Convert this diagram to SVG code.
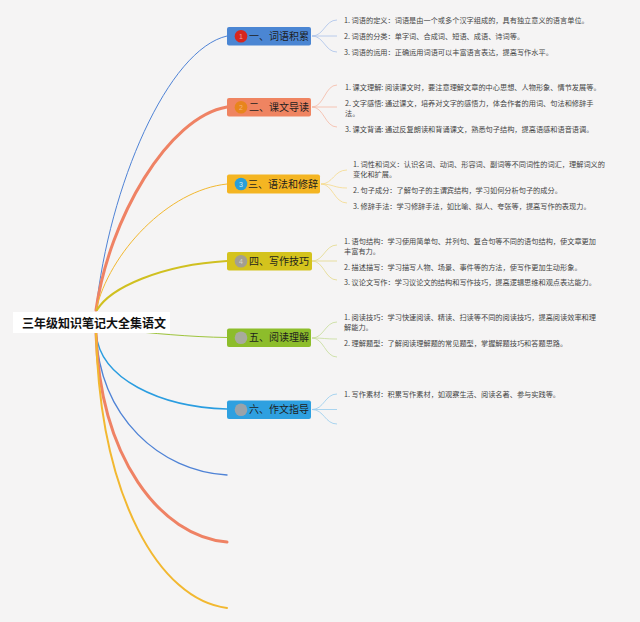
<svg xmlns="http://www.w3.org/2000/svg" width="640" height="622" viewBox="0 0 640 622">
<style>
  .bg{fill:#f5f4f4}
  .item{font-family:"Noto Sans CJK SC","Noto Sans",sans-serif;font-size:7.2px;fill:#444}
  .lbl{font-family:"Noto Sans CJK SC","Noto Sans",sans-serif;font-size:10px;fill:#1e1e1e}
  .dig{font-family:"Liberation Sans",sans-serif;font-size:7px;text-anchor:middle}
  .root{font-family:"Noto Sans CJK SC",sans-serif;font-size:12px;font-weight:bold;fill:#111}
  .c{fill:none;stroke-linecap:round}
  .fan{fill:none;stroke-width:0.8}
</style>
<rect class="bg" x="0" y="0" width="640" height="622"/>
<g id="connectors">
  <path class="c" d="M96,310 C109,186 168,49 227,36" stroke="#4f83d6" stroke-width="1"/>
  <path class="c" d="M96,310 C109,219 168,117 227,107" stroke="#ef8264" stroke-width="3"/>
  <path class="c" d="M96,310 C109,253 168,190 227,184" stroke="#f2b830" stroke-width="1"/>
  <path class="c" d="M97,310 C110,288 160,265 227,261" stroke="#d0c020" stroke-width="2"/>
  <path class="c" d="M120,330 C150,333 190,337 227,337.5" stroke="#9ec43c" stroke-width="1"/>
  <path class="c" d="M96,333 C100,379 160,407 227,409" stroke="#2a9de0" stroke-width="1.5"/>
  <path class="c" d="M96,333 C100,418 160,471 227,475" stroke="#4f83d6" stroke-width="1.4"/>
  <path class="c" d="M96,333 C100,458 160,536 227,542" stroke="#ef8264" stroke-width="3"/>
  <path class="c" d="M96,333 C100,498 160,600 227,608" stroke="#f2b830" stroke-width="2"/>
  <!-- fans -->
  <g stroke="#a9c2ea" class="fan">
    <path d="M312,36 C324,36 325,20 337,20"/>
    <path d="M312,36 L337,36"/>
    <path d="M312,36 C324,36 325,52 337,52"/>
  </g>
  <g stroke="#f5b9a4" class="fan">
    <path d="M312,107 C324,107 325,85 337,85"/>
    <path d="M312,107 L337,107"/>
    <path d="M312,107 C324,107 325,127 337,127"/>
  </g>
  <g stroke="#f5d98a" class="fan">
    <path d="M321,184 C333,184 334,170 347,170"/>
    <path d="M321,184 C333,184 334,188 347,188"/>
    <path d="M321,184 C333,184 334,203 347,203"/>
  </g>
  <g stroke="#e3d98a" class="fan">
    <path d="M312,261 C324,261 325,245 337,245"/>
    <path d="M312,261 L337,261"/>
    <path d="M312,261 C324,261 325,280 337,280"/>
  </g>
  <g stroke="#c5dc98" class="fan">
    <path d="M312,338 C324,338 325,322 337,322"/>
    <path d="M312,338 C324,338 325,339 337,339"/>
    <path d="M312,338 C324,338 325,357 337,357"/>
  </g>
  <g stroke="#95cbee" class="fan">
    <path d="M312,409.5 C324,409.5 325,394 337,394"/>
    <path d="M312,409.5 L337,409.5"/>
    <path d="M312,409.5 C324,409.5 325,424 337,424"/>
  </g>
</g>
<g id="root">
  <rect x="13" y="312" width="157" height="21" fill="#ffffff"/>
  <text class="root" x="22" y="327.5">三年级知识笔记大全集语文</text>
</g>
<g id="node1">
  <rect x="227" y="27" width="84" height="18.5" rx="2" fill="#4b86d3"/>
  <circle cx="241" cy="36.2" r="6.3" fill="#d8261e"/>
  <text class="dig" x="241" y="38.8" fill="#f2a0a0">1</text>
  <text class="lbl" x="249" y="39.8">一、词语积累</text>
  <text class="item" x="344" y="22.5">1. 词语的定义：词语是由一个或多个汉字组成的，具有独立意义的语言单位。</text>
  <text class="item" x="344" y="38.5">2. 词语的分类：单字词、合成词、短语、成语、诗词等。</text>
  <text class="item" x="344" y="54.5">3. 词语的运用：正确运用词语可以丰富语言表达，提高写作水平。</text>
</g>
<g id="node2">
  <rect x="227" y="98" width="84" height="18.5" rx="2" fill="#ef8461"/>
  <circle cx="241" cy="107.2" r="6.3" fill="#e8851c"/>
  <text class="dig" x="241" y="109.8" fill="#f4b27a">2</text>
  <text class="lbl" x="249" y="110.8">二、课文导读</text>
  <text class="item" x="345" y="89.5">1. 课文理解: 阅读课文时，要注意理解文章的中心思想、人物形象、情节发展等。</text>
  <text class="item" x="345" y="105.5">2. 文字感悟: 通过课文，培养对文字的感悟力，体会作者的用词、句法和修辞手</text>
  <text class="item" x="345" y="115.5">法。</text>
  <text class="item" x="345" y="131.5">3. 课文背诵: 通过反复朗读和背诵课文，熟悉句子结构，提高语感和语音语调。</text>
</g>
<g id="node3">
  <rect x="227" y="174.5" width="93" height="19" rx="2" fill="#f4b522"/>
  <circle cx="241" cy="184" r="6.3" fill="#2a9fda"/>
  <text class="dig" x="241" y="186.6" fill="#cfeaf8">3</text>
  <text class="lbl" x="248" y="187.6">三、语法和修辞</text>
  <text class="item" x="353" y="166.5">1. 词性和词义：认识名词、动词、形容词、副词等不同词性的词汇，理解词义的</text>
  <text class="item" x="353" y="176.5">变化和扩展。</text>
  <text class="item" x="353" y="192.5">2. 句子成分：了解句子的主谓宾结构，学习如何分析句子的成分。</text>
  <text class="item" x="353" y="208.5">3. 修辞手法：学习修辞手法，如比喻、拟人、夸张等，提高写作的表现力。</text>
</g>
<g id="node4">
  <rect x="227" y="252" width="85" height="18.5" rx="2" fill="#d4c31d"/>
  <circle cx="241" cy="261.2" r="6.3" fill="#a39f90"/>
  <text class="dig" x="241" y="263.8" fill="#d8d4c8">4</text>
  <text class="lbl" x="249" y="264.8">四、写作技巧</text>
  <text class="item" x="344" y="243.5">1. 语句结构：学习使用简单句、并列句、复合句等不同的语句结构，使文章更加</text>
  <text class="item" x="344" y="253.5">丰富有力。</text>
  <text class="item" x="344" y="269.5">2. 描述描写：学习描写人物、场景、事件等的方法，使写作更加生动形象。</text>
  <text class="item" x="344" y="284.5">3. 议论文写作：学习议论文的结构和写作技巧，提高逻辑思维和观点表达能力。</text>
</g>
<g id="node5">
  <rect x="227" y="328.5" width="84" height="18.5" rx="2" fill="#8dbd2b"/>
  <circle cx="241" cy="337.7" r="6.3" fill="#a8ab9c"/>
  <text class="lbl" x="249" y="341.3">五、阅读理解</text>
  <text class="item" x="344" y="319.5">1. 阅读技巧：学习快速阅读、精读、扫读等不同的阅读技巧，提高阅读效率和理</text>
  <text class="item" x="344" y="330">解能力。</text>
  <text class="item" x="344" y="345.5">2. 理解题型：了解阅读理解题的常见题型，掌握解题技巧和答题思路。</text>
</g>
<g id="node6">
  <rect x="227" y="400.5" width="84" height="18.5" rx="2" fill="#2ea0e0"/>
  <circle cx="241" cy="409.7" r="6.3" fill="#9aa3aa"/>
  <text class="lbl" x="249" y="413.3">六、作文指导</text>
  <text class="item" x="344" y="396.5">1. 写作素材：积累写作素材，如观察生活、阅读名著、参与实践等。</text>
</g>
</svg>
